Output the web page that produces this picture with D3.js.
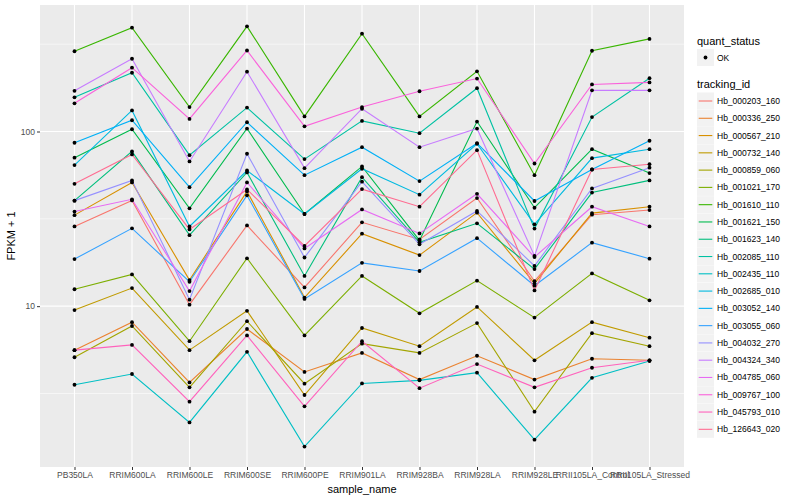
<!DOCTYPE html>
<html>
<head>
<meta charset="utf-8">
<script src="https://cdn.jsdelivr.net/npm/d3@7"></script>
<style>
  body { margin: 0; background: #fff; }
  svg { font-family: "Liberation Sans", Arial, sans-serif; }
</style>
</head>
<body>
<svg id="chart" width="800" height="500"></svg>
<script>
// samples on the x axis
const samples = ["PB350LA", "RRIM600LA", "RRIM600LE", "RRIM600SE", "RRIM600PE", "RRIM901LA",
  "RRIM928BA", "RRIM928LA", "RRIM928LE", "RRII105LA_Control", "RRII105LA_Stressed"];

// FPKM + 1 per transcript, one value per sample
const hb_000203_160 = [28.6, 40.3, 10.2, 29.0, 12.8, 30.2, 24.1, 41.6, 13.9, 33.4, 35.5];
const hb_000336_250 = [5.6, 8.1, 3.66, 7.4, 4.2, 5.4, 3.8, 5.2, 3.8, 5.0, 4.9];
const hb_000567_210 = [33.2, 51.1, 14.1, 45.4, 11.2, 26.0, 19.6, 34.3, 13.5, 34.1, 37.1];
const hb_000732_140 = [9.5, 12.7, 5.6, 9.4, 3.1, 7.5, 5.9, 9.9, 4.9, 8.1, 6.6];
const hb_000859_060 = [5.1, 7.7, 3.43, 8.2, 3.6, 6.1, 5.4, 8.0, 2.49, 7.0, 5.9];
const hb_001021_170 = [12.5, 15.2, 6.3, 18.8, 6.8, 14.9, 9.1, 14.0, 8.6, 15.4, 10.8];
const hb_001610_110 = [288, 393, 138, 400, 122, 363, 122, 221, 56.2, 290, 339];
const hb_001621_150 = [70.8, 103, 36.3, 104, 33.7, 63.1, 23.8, 114, 36.6, 79.2, 57.8];
const hb_001623_140 = [40.2, 76.9, 25.5, 58.3, 14.9, 54.8, 23.2, 29.8, 16.3, 44.7, 52.5];
const hb_002085_110 = [157, 217, 73.2, 137, 69.5, 115, 97.8, 177, 27.8, 121, 202];
const hb_002435_110 = [3.55, 4.09, 2.16, 5.48, 1.57, 3.61, 3.76, 4.16, 1.72, 3.89, 4.85];
const hb_002685_010 = [64.2, 132, 28.6, 59.8, 33.7, 61.2, 43.5, 85.1, 29.4, 70.4, 79.2];
const hb_003052_140 = [86.2, 116, 48.0, 113, 56.2, 81.3, 52.0, 85.7, 40.0, 60.6, 88.5];
const hb_003055_060 = [18.6, 27.9, 13.8, 43.1, 11.0, 17.7, 15.9, 24.5, 13.1, 23.1, 18.7];
const hb_004032_270 = [40.2, 52.5, 10.9, 74.6, 19.0, 51.6, 22.6, 35.1, 17.0, 47.2, 62.1];
const hb_004324_340 = [171, 261, 67.4, 220, 61.7, 135, 81.3, 104, 19.4, 172, 172];
const hb_004785_060 = [34.8, 40.9, 12.2, 51.1, 21.4, 35.8, 26.1, 44.0, 19.1, 37.1, 28.6];
const hb_009767_100 = [145, 232, 118, 291, 107, 138, 170, 201, 65.6, 186, 191];
const hb_045793_010 = [5.6, 6.0, 2.84, 6.8, 2.67, 6.3, 3.39, 4.66, 3.43, 4.44, 4.9];
const hb_126643_020 = [50.2, 73.9, 27.5, 46.6, 22.1, 46.8, 37.1, 78.2, 12.3, 60.6, 65.0];

const trackingIds = ["Hb_000203_160", "Hb_000336_250", "Hb_000567_210", "Hb_000732_140",
  "Hb_000859_060", "Hb_001021_170", "Hb_001610_110", "Hb_001621_150", "Hb_001623_140",
  "Hb_002085_110", "Hb_002435_110", "Hb_002685_010", "Hb_003052_140", "Hb_003055_060",
  "Hb_004032_270", "Hb_004324_340", "Hb_004785_060", "Hb_009767_100", "Hb_045793_010",
  "Hb_126643_020"];
const seriesValues = [hb_000203_160, hb_000336_250, hb_000567_210, hb_000732_140, hb_000859_060,
  hb_001021_170, hb_001610_110, hb_001621_150, hb_001623_140, hb_002085_110, hb_002435_110,
  hb_002685_010, hb_003052_140, hb_003055_060, hb_004032_270, hb_004324_340, hb_004785_060,
  hb_009767_100, hb_045793_010, hb_126643_020];

const yTicks = [10, 100];
const yMinor = [Math.sqrt(10), Math.sqrt(1000), Math.sqrt(100000)];

// ggplot default hue palette, 20 levels
const palette = ["#F8766D", "#EA8331", "#D89000", "#C09B00", "#A3A500", "#7CAE00", "#39B600",
  "#00BB4E", "#00BF7D", "#00C1A3", "#00BFC4", "#00BAE0", "#00B0F6", "#35A2FF", "#9590FF",
  "#C77CFF", "#E76BF3", "#FA62DB", "#FF62BC", "#FF6C91"];

const panel = { left: 40, right: 684, top: 5, bottom: 467 };
const svg = d3.select("#chart");

const x = d3.scalePoint()
  .domain(samples)
  .range([panel.left, panel.right])
  .padding(0.6);

const y = d3.scaleLog()
  .domain([1.2, 530])
  .range([panel.bottom, panel.top]);

const color = d3.scaleOrdinal().domain(trackingIds).range(palette);

// panel background
svg.append("rect")
  .attr("x", panel.left).attr("y", panel.top)
  .attr("width", panel.right - panel.left)
  .attr("height", panel.bottom - panel.top)
  .attr("fill", "#EBEBEB");

// grid
const grid = svg.append("g");
grid.selectAll(".minor").data(yMinor).enter().append("line")
  .attr("x1", panel.left).attr("x2", panel.right)
  .attr("y1", d => y(d)).attr("y2", d => y(d))
  .attr("stroke", "#fff").attr("stroke-width", 0.55);
grid.selectAll(".major-y").data(yTicks).enter().append("line")
  .attr("x1", panel.left).attr("x2", panel.right)
  .attr("y1", d => y(d)).attr("y2", d => y(d))
  .attr("stroke", "#fff").attr("stroke-width", 1.1);
grid.selectAll(".major-x").data(samples).enter().append("line")
  .attr("x1", d => x(d)).attr("x2", d => x(d))
  .attr("y1", panel.top).attr("y2", panel.bottom)
  .attr("stroke", "#fff").attr("stroke-width", 1.1);

// lines
const series = trackingIds.map((id, i) => ({ id: id, values: seriesValues[i] }));
const line = d3.line()
  .x((d, i) => x(samples[i]))
  .y(d => y(d));

svg.append("g").selectAll("path").data(series).enter().append("path")
  .attr("d", d => line(d.values))
  .attr("fill", "none")
  .attr("stroke", d => color(d.id))
  .attr("stroke-width", 1.1);

// points
const pts = [];
series.forEach(s => s.values.forEach((v, i) => pts.push({ s: samples[i], v: v })));
svg.append("g").selectAll("circle").data(pts).enter().append("circle")
  .attr("cx", d => x(d.s))
  .attr("cy", d => y(d.v))
  .attr("r", 1.9)
  .attr("fill", "#000");

// axes
const xAxis = svg.append("g")
  .attr("transform", `translate(0,${panel.bottom})`)
  .call(d3.axisBottom(x).tickSize(3).tickPadding(2));
const yAxis = svg.append("g")
  .attr("transform", `translate(${panel.left},0)`)
  .call(d3.axisLeft(y).tickValues(yTicks).tickFormat(d3.format("d")).tickSize(3).tickPadding(2));

[xAxis, yAxis].forEach(a => {
  a.select(".domain").remove();
  a.selectAll(".tick line").attr("stroke", "#333333");
  a.selectAll(".tick text")
    .attr("fill", "#4D4D4D")
    .style("font-size", "8.5px")
    .style("font-family", "'Liberation Sans', Arial, sans-serif");
});

// axis titles
svg.append("text")
  .attr("x", (panel.left + panel.right) / 2)
  .attr("y", 493)
  .attr("text-anchor", "middle")
  .style("font-size", "11px")
  .text("sample_name");

svg.append("text")
  .attr("transform", `translate(15,${(panel.top + panel.bottom) / 2}) rotate(-90)`)
  .attr("text-anchor", "middle")
  .style("font-size", "11px")
  .text("FPKM + 1");

// legend
const legend = svg.append("g").attr("transform", "translate(697,0)");
legend.append("text").attr("x", 0).attr("y", 45)
  .style("font-size", "11px").text("quant_status");
legend.append("rect").attr("x", 0).attr("y", 49).attr("width", 17).attr("height", 17)
  .attr("fill", "#F2F2F2");
legend.append("circle").attr("cx", 8.5).attr("cy", 57.5).attr("r", 1.9).attr("fill", "#000");
legend.append("text").attr("x", 20).attr("y", 60.5)
  .style("font-size", "8.5px").text("OK");

legend.append("text").attr("x", 0).attr("y", 88)
  .style("font-size", "11px").text("tracking_id");

const item = legend.selectAll(".item").data(trackingIds).enter().append("g")
  .attr("transform", (d, i) => `translate(0,${92.5 + i * 17.28})`);
item.append("rect").attr("width", 17).attr("height", 17).attr("fill", "#F2F2F2");
item.append("line")
  .attr("x1", 1.7).attr("x2", 15.3).attr("y1", 8.5).attr("y2", 8.5)
  .attr("stroke", d => color(d)).attr("stroke-width", 1.1);
item.append("text").attr("x", 20).attr("y", 11.5)
  .style("font-size", "8.5px").text(d => d);
</script>
</body>
</html>
